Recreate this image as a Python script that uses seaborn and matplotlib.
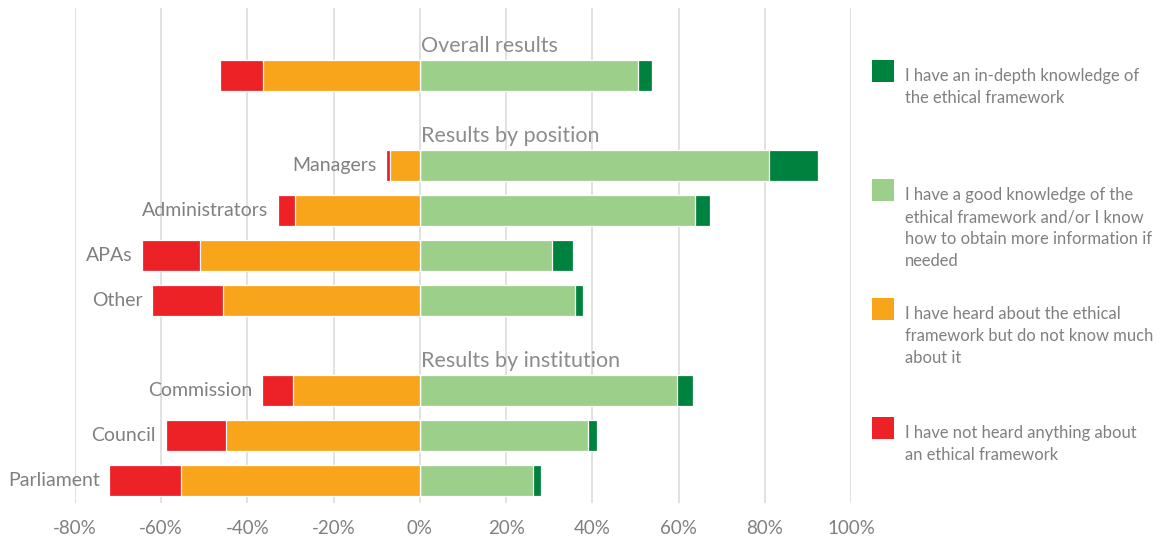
import numpy as np
import pandas as pd
import matplotlib
matplotlib.use("Agg")
import matplotlib.pyplot as plt
from matplotlib.patches import Rectangle
import seaborn as sns

# ---------------- data ----------------
groups = ["Overall", "Managers", "Administrators", "APAs", "Other",
          "Commission", "Council", "Parliament"]
row_labels = ["", "Managers", "Administrators", "APAs", "Other",
              "Commission", "Council", "Parliament"]
in_depth = [3.3, 11.4, 3.4, 4.9, 2.0, 3.7, 1.9, 1.7]
good = [50.5, 81.0, 63.8, 30.6, 35.9, 59.6, 39.1, 26.3]
heard = [36.4, 7.0, 29.0, 51.0, 45.6, 29.5, 44.9, 55.3]
not_heard = [10.0, 0.8, 3.9, 13.5, 16.5, 7.2, 14.1, 16.7]

section_titles = ["Overall results", "Results by position", "Results by institution"]
section_first = ["Overall", "Managers", "Commission"]

legend_labels = [
    "I have an in-depth knowledge of\nthe ethical framework",
    "I have a good knowledge of the\nethical framework and/or I know\nhow to obtain more information if\nneeded",
    "I have heard about the ethical\nframework but do not know much\nabout it",
    "I have not heard anything about\nan ethical framework",
]
x_ticks = [-80, -60, -40, -20, 0, 20, 40, 60, 80, 100]

# ---------------- styling ----------------
C_DARK = "#00823F"
C_LIGHT = "#9CCF8A"
C_ORANGE = "#F8A51C"
C_RED = "#EC2227"
TXT = "#808080"
FONT = "Lato"

df = pd.DataFrame({
    "group": groups,
    "label": row_labels,
    "in_depth": in_depth,
    "good": good,
    "heard": heard,
    "not_heard": not_heard,
})
df["pos_total"] = df["good"] + df["in_depth"]
df["neg_total"] = -(df["heard"] + df["not_heard"])
df["neg_heard"] = -df["heard"]

order = ["_h0", "Overall", "_h1", "Managers", "Administrators", "APAs", "Other",
         "_h2", "Commission", "Council", "Parliament"]

sns.set_theme(style="white")
plt.rcParams["font.family"] = [FONT, "DejaVu Sans"]

fig = plt.figure(figsize=(11.65, 5.43), dpi=100)
ax = fig.add_axes([75 / 1165, 1 - 503 / 543, (851 - 75) / 1165, (503 - 8) / 543])

bw = 0.69
common = dict(data=df, y="group", order=order, orient="h", width=bw,
              errorbar=None, edgecolor="white", linewidth=0.9, ax=ax)
sns.barplot(x="pos_total", color=C_DARK, saturation=1, **common)
sns.barplot(x="good", color=C_LIGHT, saturation=1, **common)
sns.barplot(x="neg_total", color=C_RED, saturation=1, **common)
sns.barplot(x="neg_heard", color=C_ORANGE, saturation=1, **common)

ax.set_xlim(-80, 100)
ax.set_ylim(len(order) - 0.5, -0.5)
ax.set_xticks(x_ticks)
ax.set_xticklabels([f"{v}%" for v in x_ticks], color=TXT, fontsize=13.5)
ax.tick_params(axis="x", length=0, pad=12)
ax.tick_params(axis="y", left=False, labelleft=False)
ax.set_xlabel("")
ax.set_ylabel("")
for s in ax.spines.values():
    s.set_visible(False)
ax.set_axisbelow(True)
ax.xaxis.grid(True, color="#d9d9d9", linewidth=1.1)

# row labels left of the bars
for _, r in df.iterrows():
    if r["label"]:
        yi = order.index(r["group"])
        ax.annotate(r["label"], xy=(r["neg_total"], yi), xytext=(-7, 0),
                    textcoords="offset points", ha="right", va="center",
                    color=TXT, fontsize=14)

# section titles
for title, first in zip(section_titles, section_first):
    yi = order.index(first)
    ax.text(0.2, yi - 0.53, title, ha="left", va="baseline",
            color="#8c8c8c", fontsize=15.5)

# legend (manual, to match layout)
colors = [C_DARK, C_LIGHT, C_ORANGE, C_RED]
W, H = 1165, 543
sq_tops = [60, 179, 298, 417]
for col, lab, top in zip(colors, legend_labels, sq_tops):
    fig.add_artist(Rectangle((872 / W, 1 - (top + 22) / H), 22 / W, 22 / H,
                             transform=fig.transFigure, facecolor=col,
                             edgecolor="none"))
    for k, line in enumerate(lab.split("\n")):
        fig.text(905 / W, 1 - (top + 21 + 22 * k) / H, line, ha="left",
                 va="baseline", color=TXT, fontsize=11.9)

fig.savefig("out.png", dpi=100)
